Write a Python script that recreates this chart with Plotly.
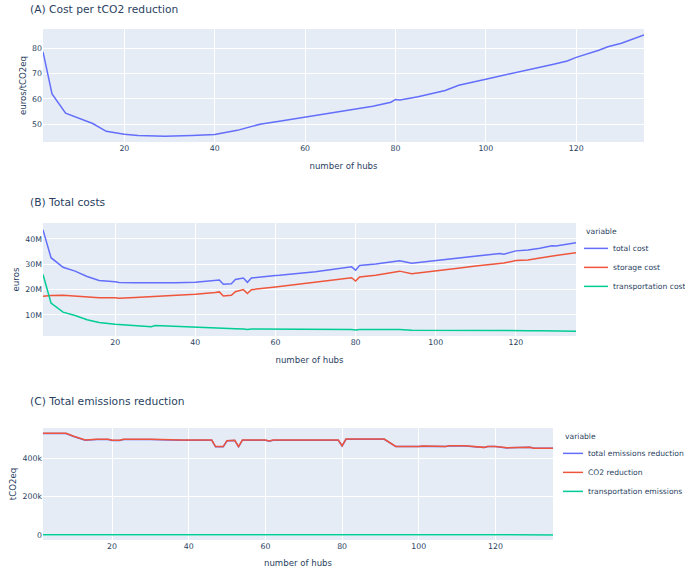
import plotly.graph_objects as go

# ---------------- data ----------------
# (A) cost per tCO2 reduction
hubs_a = [2, 4, 7, 10, 13, 16, 20, 23, 29, 35, 40, 45, 50, 55, 60, 65, 70, 75, 79, 80, 81,
          85, 91, 94, 100, 105, 110, 115, 118, 120, 125, 127, 130, 135]
cost_per_t = [78.6, 62.0, 54.4, 52.3, 50.3, 47.2, 46.1, 45.6, 45.3, 45.6, 46.0, 47.6, 50.0,
              51.4, 52.8, 54.1, 55.5, 57.1, 58.7, 59.8, 59.6, 60.9, 63.3, 65.4, 67.8, 69.7,
              71.7, 73.7, 75.0, 76.4, 79.2, 80.6, 82.0, 85.3]

# (B) total costs (euros)
hubs_b = [2, 4, 7, 10, 13, 16, 20, 21, 25, 29, 30, 35, 40, 45, 46, 47, 49, 50, 52, 53, 54,
          60, 61, 70, 78, 79, 80, 81, 85, 91, 94, 100, 105, 110, 113, 116, 117, 120, 123,
          126, 129, 130, 135]
total_cost = [43.6, 32.6, 28.8, 27.3, 25.2, 23.6, 23.1, 22.8, 22.7, 22.6, 22.6, 22.7, 22.9,
              23.5, 23.8, 22.1, 22.3, 24.0, 24.6, 22.9, 24.6, 25.6, 25.7, 27.1, 28.8, 29.0,
              27.7, 29.5, 30.1, 31.4, 30.4, 31.4, 32.2, 33.2, 33.8, 34.3, 34.0, 35.3, 35.6,
              36.3, 37.3, 37.2, 38.5]
storage_cost = [17.4, 17.7, 17.8, 17.5, 17.2, 16.8, 16.8, 16.6, 16.9, 17.2, 17.3, 17.7, 18.2,
                18.9, 19.1, 17.5, 17.8, 19.2, 20.0, 18.5, 20.0, 21.0, 21.2, 22.8, 24.5, 24.7,
                23.4, 25.0, 25.7, 27.3, 26.3, 27.3, 28.3, 29.3, 29.9, 30.5, 30.5, 31.5, 31.7,
                32.5, 33.4, 33.5, 34.6]
transport_cost = [26.0, 14.7, 11.1, 9.8, 8.1, 7.0, 6.3, 6.2, 5.9, 5.4, 5.8, 5.5, 5.1, 4.8,
                  4.7, 4.5, 4.5, 4.6, 4.5, 4.3, 4.5, 4.5, 4.4, 4.4, 4.3, 4.3, 4.1, 4.3, 4.3,
                  4.3, 4.0, 3.9, 3.9, 3.9, 3.9, 3.8, 3.8, 3.8, 3.8, 3.8, 3.7, 3.7, 3.6]
MILLION = 1e6

# (C) total emissions reduction (tCO2eq)
hubs_c = [2, 8, 10, 13, 16, 19, 20, 22, 23, 30, 38, 46, 47, 49, 50, 52, 53, 54, 60, 61, 62,
          79, 80, 81, 91, 94, 100, 101, 107, 108, 112, 114, 116, 117, 118, 120, 123, 128,
          129, 130, 135]
co2_reduction = [530, 530, 515, 495, 499, 499, 494, 494, 499, 499, 495, 495, 461, 461, 492,
                 494, 461, 495, 495, 490, 495, 495, 465, 500, 500, 462, 462, 464, 462, 465,
                 465, 462, 462, 457, 462, 462, 455, 455, 458, 453, 453]
transport_emis = [1.2, 1.1, 1.0, 1.0, 0.9, 0.9, 0.9, 0.9, 0.9, 0.8, 0.8, 0.8, 0.8, 0.8, 0.8,
                  0.8, 0.8, 0.8, 0.8, 0.8, 0.8, 0.7, 0.7, 0.7, 0.7, 0.7, 0.7, 0.7, 0.7, 0.7,
                  0.7, 0.7, 0.7, 0.7, 0.7, 0.7, 0.7, 0.7, 0.7, 0.7, 0.7]
THOUSAND = 1e3
total_emis_red = [c - t for c, t in zip(co2_reduction, transport_emis)]

# ---------------- layout helpers ----------------
W, H = 685, 568
def fx(p):
    return p / W
def fy(p):
    return 1 - p / H

FONT = "DejaVu Sans"
TXT = "#2a3f5f"
BLUE, RED, GREEN = "#636efa", "#EF553B", "#00cc96"
LW = 1.5

fig = go.Figure()

fig.add_trace(go.Scatter(x=hubs_a, y=cost_per_t, mode="lines", name="cost",
                         line=dict(color=BLUE, width=LW), xaxis="x", yaxis="y",
                         showlegend=False))

for name, vals, col in [("total cost", total_cost, BLUE),
                        ("storage cost", storage_cost, RED),
                        ("transportation cost", transport_cost, GREEN)]:
    fig.add_trace(go.Scatter(x=hubs_b, y=[v * MILLION for v in vals], mode="lines",
                             name=name, line=dict(color=col, width=LW),
                             xaxis="x2", yaxis="y2", legend="legend"))

for name, vals, col in [("total emissions reduction", total_emis_red, BLUE),
                        ("CO2 reduction", co2_reduction, RED),
                        ("transportation emissions", transport_emis, GREEN)]:
    fig.add_trace(go.Scatter(x=hubs_c, y=[v * THOUSAND for v in vals], mode="lines",
                             name=name, line=dict(color=col, width=LW),
                             xaxis="x3", yaxis="y3", legend="legend2"))

tickf = dict(family=FONT, size=7.8, color=TXT)
titf = dict(family=FONT, size=8.6, color=TXT)

def xax(dom, anchor):
    return dict(domain=dom, anchor=anchor, range=[2, 135], dtick=20, tickfont=tickf,
                title=dict(text="number of hubs", font=titf, standoff=11),
                gridcolor="white", zeroline=False, showline=False, ticks="",
                automargin=False)

def yax(dom, anchor, rng, dtick, title):
    return dict(domain=dom, anchor=anchor, range=rng, dtick=dtick, tickfont=tickf,
                title=dict(text=title, font=titf, standoff=4),
                gridcolor="white", zeroline=False, showline=False, ticks="",
                automargin=False)

leg_font = dict(family=FONT, size=7.6, color=TXT)

def legend_at(xpx, ypx, indent):
    return dict(x=fx(xpx), y=fy(ypx), font=leg_font,
                title=dict(text="variable", font=leg_font),
                bgcolor="rgba(0,0,0,0)", xanchor="left", yanchor="top",
                tracegroupgap=0, indentation=indent)

fig.update_layout(
    width=W, height=H,
    margin=dict(l=0, r=0, t=0, b=0, autoexpand=False),
    paper_bgcolor="white", plot_bgcolor="#E5ECF6",
    font=dict(family=FONT, size=7.6, color=TXT),
    xaxis=xax([fx(43), fx(644)], "y"),
    yaxis=yax([fy(142), fy(29)], "x", [43.0, 87.6], 10, "euros/tCO2eq"),
    xaxis2=xax([fx(43), fx(576)], "y2"),
    yaxis2=yax([fy(336), fy(223)], "x2", [1.7e6, 46.3e6], 10e6, "euros"),
    xaxis3=xax([fx(43), fx(553)], "y3"),
    yaxis3=yax([fy(540), fy(428)], "x3", [-26e3, 558e3], 200e3, "tCO2eq"),
    legend=legend_at(584, 224, -11),
    legend2=legend_at(563, 429, -15),
    annotations=[
        dict(text="(A) Cost per tCO2 reduction", x=fx(28), y=fy(10), xref="paper",
             yref="paper", xanchor="left", yanchor="middle", showarrow=False,
             font=dict(family=FONT, size=10.7, color=TXT)),
        dict(text="(B) Total costs", x=fx(28), y=fy(202), xref="paper",
             yref="paper", xanchor="left", yanchor="middle", showarrow=False,
             font=dict(family=FONT, size=10.7, color=TXT)),
        dict(text="(C) Total emissions reduction", x=fx(28), y=fy(402), xref="paper",
             yref="paper", xanchor="left", yanchor="middle", showarrow=False,
             font=dict(family=FONT, size=10.7, color=TXT)),
    ],
)

fig.write_html("out.html")
